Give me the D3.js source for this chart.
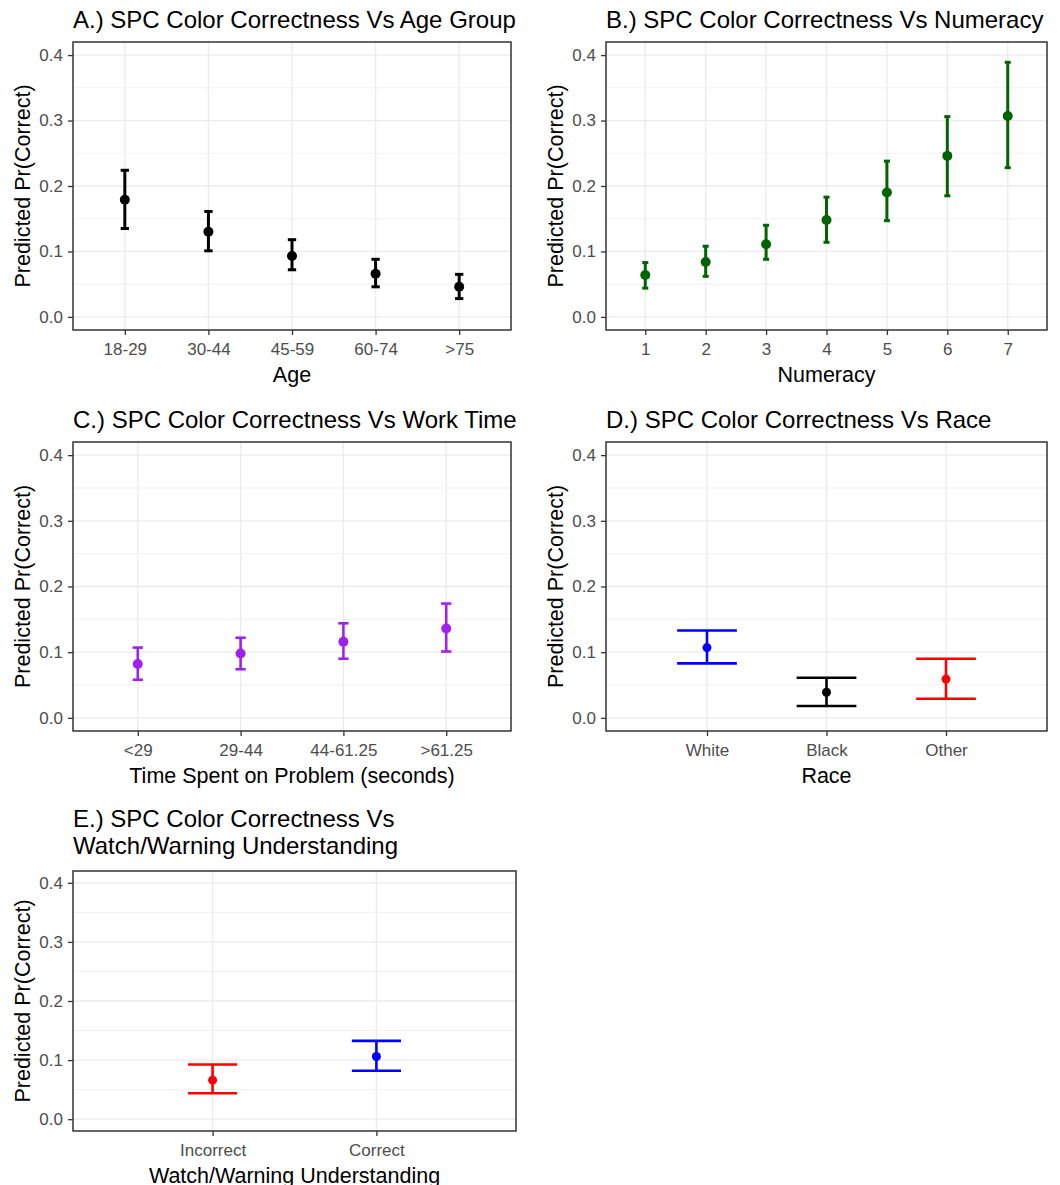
<!DOCTYPE html>
<html>
<head>
<meta charset="utf-8">
<script src="https://cdn.jsdelivr.net/npm/d3@7"></script>
<style>
	body { margin: 0; background: #fff; }
	svg { display: block; font-family: "Liberation Sans", Arial, sans-serif; }
</style>
</head>
<body>
<svg id="chart" width="1060" height="1185"></svg>
<script>
// values
const yTicks		= [0, 0.1, 0.2, 0.3, 0.4];
const yMinor		= [0.05, 0.15, 0.25, 0.35];

const ageCats		= ['18-29', '30-44', '45-59', '60-74', '>75'];
const ageEst		= [0.179, 0.130, 0.093, 0.066, 0.046];
const ageLow		= [0.135, 0.101, 0.072, 0.046, 0.028];
const ageHigh		= [0.224, 0.161, 0.118, 0.088, 0.065];

const numCats		= ['1', '2', '3', '4', '5', '6', '7'];
const numEst		= [0.064, 0.084, 0.111, 0.148, 0.190, 0.246, 0.307];
const numLow		= [0.044, 0.062, 0.088, 0.114, 0.147, 0.185, 0.228];
const numHigh		= [0.083, 0.108, 0.140, 0.183, 0.238, 0.306, 0.389];

const timeCats		= ['<29', '29-44', '44-61.25', '>61.25'];
const timeEst		= [0.082, 0.098, 0.116, 0.136];
const timeLow		= [0.058, 0.074, 0.090, 0.101];
const timeHigh		= [0.107, 0.122, 0.144, 0.174];

const raceCats		= ['White', 'Black', 'Other'];
const raceEst		= [0.107, 0.039, 0.059];
const raceLow		= [0.083, 0.018, 0.029];
const raceHigh		= [0.133, 0.061, 0.090];
const raceColors	= ['#0000ff', '#000000', '#ff0000'];

const wwCats		= ['Incorrect', 'Correct'];
const wwEst			= [0.066, 0.106];
const wwLow			= [0.044, 0.082];
const wwHigh		= [0.0925, 0.1325];
const wwColors		= ['#ff0000', '#0000ff'];

let svg = d3.select('#chart');

function drawPanel(p) {
	let g = svg.append('g').attr('class', 'panel');

	let x = d3.scalePoint().domain(p.cats).range([p.left, p.right]).padding(p.pad);
	let y = d3.scaleLinear().domain([-0.02, 0.42]).range([p.bottom, p.top]);
	let step = x.step();

	// grid
	g.selectAll('.minor').data(yMinor).enter().append('line')
		.attr('x1', p.left).attr('x2', p.right)
		.attr('y1', d => y(d)).attr('y2', d => y(d))
		.style('stroke', '#ebebeb').style('stroke-width', 0.7);
	g.selectAll('.major').data(yTicks).enter().append('line')
		.attr('x1', p.left).attr('x2', p.right)
		.attr('y1', d => y(d)).attr('y2', d => y(d))
		.style('stroke', '#ebebeb').style('stroke-width', 1.3);
	g.selectAll('.vmajor').data(p.cats).enter().append('line')
		.attr('x1', d => x(d)).attr('x2', d => x(d))
		.attr('y1', p.top).attr('y2', p.bottom)
		.style('stroke', '#ebebeb').style('stroke-width', 1.3);

	// error bars
	let rows = p.cats.map((c, i) => ({ c, est: p.est[i], low: p.low[i], high: p.high[i], col: p.colors ? p.colors[i] : p.color }));
	let hw = p.capWidth * step / 2;

	let eb = g.selectAll('.eb').data(rows).enter().append('g');
	eb.append('line')
		.attr('x1', d => x(d.c)).attr('x2', d => x(d.c))
		.attr('y1', d => y(d.low)).attr('y2', d => y(d.high))
		.style('stroke', d => d.col).style('stroke-width', p.lw);
	eb.append('line')
		.attr('x1', d => x(d.c) - hw).attr('x2', d => x(d.c) + hw)
		.attr('y1', d => y(d.low)).attr('y2', d => y(d.low))
		.style('stroke', d => d.col).style('stroke-width', p.lw);
	eb.append('line')
		.attr('x1', d => x(d.c) - hw).attr('x2', d => x(d.c) + hw)
		.attr('y1', d => y(d.high)).attr('y2', d => y(d.high))
		.style('stroke', d => d.col).style('stroke-width', p.lw);
	eb.append('circle')
		.attr('cx', d => x(d.c)).attr('cy', d => y(d.est)).attr('r', p.r)
		.style('fill', d => d.col);

	// border
	g.append('rect')
		.attr('x', p.left).attr('y', p.top)
		.attr('width', p.right - p.left).attr('height', p.bottom - p.top)
		.style('fill', 'none').style('stroke', '#333333').style('stroke-width', 1.5);

	// axes
	let ax = g.append('g').attr('transform', 'translate(0,' + p.bottom + ')')
		.call(d3.axisBottom(x).tickSize(5).tickPadding(8).tickSizeOuter(0));
	let ay = g.append('g').attr('transform', 'translate(' + p.left + ',0)')
		.call(d3.axisLeft(y).tickValues(yTicks).tickFormat(d3.format('.1f')).tickSize(5).tickPadding(5).tickSizeOuter(0));

	[ax, ay].forEach(a => {
		a.select('.domain').remove();
		a.selectAll('line').style('stroke', '#333333').style('stroke-width', 1.3);
		a.selectAll('text').style('fill', '#4d4d4d').style('font-size', '17px').style('font-family', '"Liberation Sans", Arial, sans-serif');
	});

	// titles
	let t = g.append('text').attr('x', p.left).attr('y', p.titleY)
		.style('font-size', '24px').style('fill', '#000');
	p.title.forEach((line, i) => {
		t.append('tspan').attr('x', p.left).attr('dy', i ? 26.5 : 0).text(line);
	});

	g.append('text')
		.attr('x', (p.left + p.right) / 2).attr('y', p.bottom + 52)
		.attr('text-anchor', 'middle')
		.style('font-size', '21.5px').style('fill', '#000')
		.text(p.xTitle);

	g.append('text')
		.attr('transform', 'translate(' + (p.left - 43) + ',' + ((p.top + p.bottom) / 2) + ') rotate(-90)')
		.attr('text-anchor', 'middle')
		.style('font-size', '21.5px').style('fill', '#000')
		.text('Predicted Pr(Correct)');
}

drawPanel({ cats: ageCats, est: ageEst, low: ageLow, high: ageHigh, color: '#000000',
	left: 73, right: 511, top: 42, bottom: 330, pad: 0.62, capWidth: 0.1, lw: 3, r: 5,
	title: ['A.) SPC Color Correctness Vs Age Group'], titleY: 28, xTitle: 'Age' });

drawPanel({ cats: numCats, est: numEst, low: numLow, high: numHigh, color: '#006400',
	left: 606, right: 1047, top: 42, bottom: 330, pad: 0.65, capWidth: 0.1, lw: 3, r: 5,
	title: ['B.) SPC Color Correctness Vs Numeracy'], titleY: 28, xTitle: 'Numeracy' });

drawPanel({ cats: timeCats, est: timeEst, low: timeLow, high: timeHigh, color: '#a020f0',
	left: 73, right: 511, top: 442, bottom: 731, pad: 0.63, capWidth: 0.1, lw: 2.6, r: 5,
	title: ['C.) SPC Color Correctness Vs Work Time'], titleY: 428, xTitle: 'Time Spent on Problem (seconds)' });

drawPanel({ cats: raceCats, est: raceEst, low: raceLow, high: raceHigh, colors: raceColors,
	left: 606, right: 1047, top: 442, bottom: 731, pad: 0.845, capWidth: 0.5, lw: 2.6, r: 4.5,
	title: ['D.) SPC Color Correctness Vs Race'], titleY: 428, xTitle: 'Race' });

drawPanel({ cats: wwCats, est: wwEst, low: wwLow, high: wwHigh, colors: wwColors,
	left: 73, right: 516, top: 871, bottom: 1131, pad: 0.852, capWidth: 0.3, lw: 2.6, r: 4.5,
	title: ['E.) SPC Color Correctness Vs', 'Watch/Warning Understanding'], titleY: 827, xTitle: 'Watch/Warning Understanding' });
</script>
</body>
</html>
